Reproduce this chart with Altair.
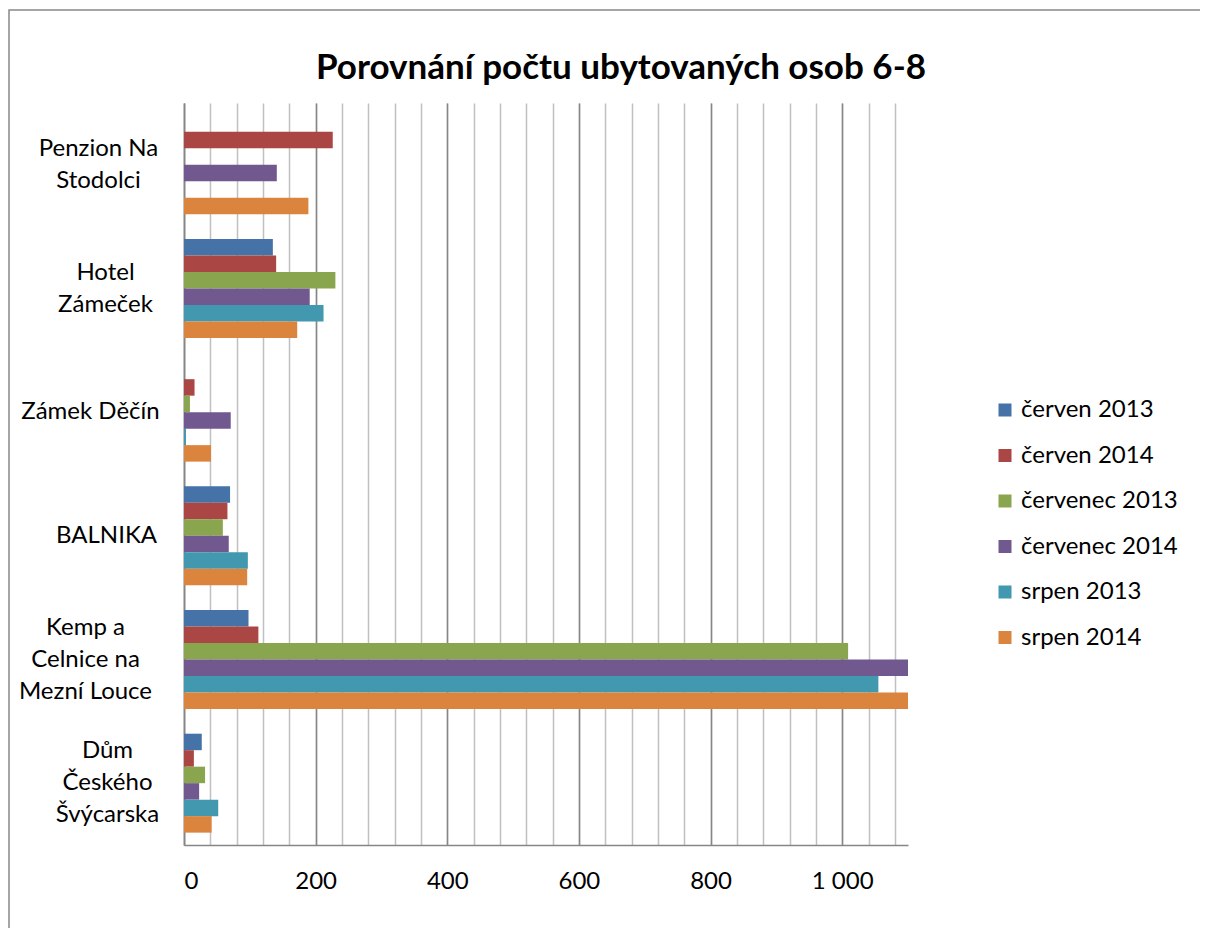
import altair as alt
import pandas as pd

categories = [
    "Penzion Na|Stodolci",
    "Hotel|Zámeček",
    "Zámek Děčín",
    "BALNIKA",
    "Kemp a|Celnice na|Mezní Louce",
    "Dům|Českého|Švýcarska",
]
series = ["červen 2013", "červen 2014", "červenec 2013",
          "červenec 2014", "srpen 2013", "srpen 2014"]
colors = ["#4572A7", "#AA4643", "#89A54E", "#71588F", "#4198AF", "#DB843D"]

cerven_2013 = [None, 135, None, 70, 98, 27]
cerven_2014 = [226, 140, 16, 66, 113, 15]
cervenec_2013 = [None, 230, 9, 59, 1009, 32]
cervenec_2014 = [141, 191, 71, 68, 1100, 23]
srpen_2013 = [None, 212, 3, 97, 1055, 52]
srpen_2014 = [189, 172, 41, 96, 1100, 42]

values = [cerven_2013, cerven_2014, cervenec_2013,
          cervenec_2014, srpen_2013, srpen_2014]

rows = []
for s, vals in zip(series, values):
    for c, v in zip(categories, vals):
        rows.append({"kategorie": c, "serie": s, "hodnota": v})
df = pd.DataFrame(rows)

major_ticks = [0, 200, 400, 600, 800, 1000]
minor_ticks = list(range(0, 1100, 40))

FONT = "Lato"
W, H = 724, 742
LINE_H = 32

# horizontal centre of each wrapped label (distance from the axis line)
label_pad = [86, 79, 94, 78, 99, 77]
pad_cond = [{"test": f"datum.value === '{c}'", "value": p}
            for c, p in zip(categories, label_pad)]
offset_cond = [
    {"test": "length(split(datum.value, '|')) == 3", "value": -LINE_H},
    {"test": "length(split(datum.value, '|')) == 2", "value": -LINE_H / 2},
]

x_scale = alt.Scale(domain=[0, 1100], nice=False, clamp=True)
y_scale = alt.Scale(paddingInner=0.2, paddingOuter=0.1)

y_enc = alt.Y(
    "kategorie:N",
    sort=categories,
    scale=y_scale,
    axis=alt.Axis(
        title=None, ticks=False, grid=False,
        domainColor="#868686", domainWidth=1.5,
        labelExpr="split(datum.label, '|')",
        labelAlign="center", labelBaseline="middle",
        labelLineHeight=LINE_H,
        labelFont=FONT, labelFontSize=24, labelColor="#000000",
        labelPadding={"condition": pad_cond, "value": 88},
        labelOffset={"condition": offset_cond, "value": 0},
        labelLimit=300,
    ),
)

minor = alt.Chart(df).mark_bar(opacity=0).encode(
    x=alt.X("hodnota:Q", scale=x_scale,
            axis=alt.Axis(values=minor_ticks, orient="bottom", labels=False,
                          ticks=False, domain=False, title=None,
                          grid=True, gridColor="#c0c0c0", gridWidth=1.5)),
    y=y_enc,
)

bars = alt.Chart(df).mark_bar(clip=True).encode(
    x=alt.X("hodnota:Q", scale=x_scale,
            axis=alt.Axis(values=major_ticks, orient="bottom", title=None,
                          ticks=False, grid=True, gridColor="#868686",
                          gridWidth=1.5, domainColor="#868686", domainWidth=1.5,
                          labelFont=FONT, labelFontSize=24, labelColor="#000000",
                          labelPadding=24,
                          labelExpr="replace(datum.label, ',', ' ')",
                          format=",d")),
    y=y_enc,
    yOffset=alt.YOffset("serie:N", sort=series),
    color=alt.Color(
        "serie:N", sort=series,
        scale=alt.Scale(domain=series, range=colors),
        legend=alt.Legend(
            title=None, orient="none", legendX=809, legendY=295,
            symbolType="square", symbolSize=169, symbolStrokeWidth=0,
            labelFont=FONT, labelFontSize=24, labelColor="#000000",
            labelOffset=4, rowPadding=21.5, padding=0,
        ),
    ),
)

border = alt.Chart(alt.Data(values=[{}])).mark_rect(
    fill=None, stroke="#888888", strokeWidth=1.5, clip=False
).encode(
    x=alt.value(-175), x2=alt.value(1300),
    y=alt.value(-93), y2=alt.value(1000),
)

chart = alt.layer(minor, bars, border).resolve_axis(x="independent").properties(
    width=W, height=H,
    title=alt.TitleParams(
        "Porovnání počtu ubytovaných osob 6-8",
        font=FONT, fontSize=35, fontWeight="bold", color="#000000",
        anchor="middle", dx=75, offset=-105, baseline="alphabetic",
    ),
    autosize=alt.AutoSizeParams(type="none"),
    padding={"left": 176, "top": 95, "right": 292, "bottom": 83},
).configure_view(stroke=None)

chart.save("out.html", embed_options={"renderer": "svg", "actions": False})
